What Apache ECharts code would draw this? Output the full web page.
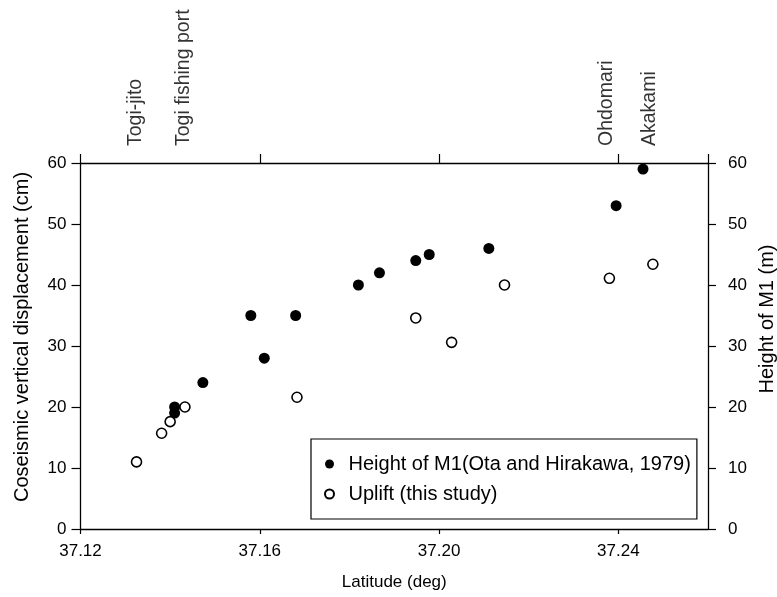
<!DOCTYPE html>
<html>
<head>
<meta charset="utf-8">
<script src="https://cdn.jsdelivr.net/npm/echarts@6/dist/echarts.min.js"></script>
<style>
  html, body { margin: 0; padding: 0; background: #fff; }
  #chart { width: 777px; height: 597px; }
</style>
</head>
<body>
<div id="chart"></div>
<script>
// 数据
var heightM1 = [
    [37.141, 19], [37.141, 20], [37.1473, 24], [37.158, 35], [37.161, 28],
    [37.168, 35], [37.182, 40], [37.1867, 42], [37.1948, 44], [37.1978, 45],
    [37.2111, 46], [37.2395, 53], [37.2455, 59]
];
var uplift = [
    [37.1325, 11], [37.1381, 15.7], [37.14, 17.6], [37.1433, 20], [37.1683, 21.6],
    [37.1948, 34.6], [37.2028, 30.6], [37.2146, 40], [37.238, 41.1], [37.2477, 43.4]
];
var placeNames = ['Togi-jito', 'Togi fishing port', 'Ohdomari', 'Akakami'];
var placeLats = [37.1322, 37.1429, 37.2374, 37.247];
var xTicks = [37.12, 37.16, 37.20, 37.24];

var FONT = 'Liberation Sans, Arial, Helvetica, sans-serif';
var chart = echarts.init(document.getElementById('chart'));

var axisLine = { show: true, onZero: false, lineStyle: { color: '#000', width: 1.3 } };
var xLabels = function (v) {
    var s = xTicks.find(function (t) { return Math.abs(t - v) < 1e-6; });
    return s === undefined ? '' : s.toFixed(2);
};

var option = {
    backgroundColor: '#fff',
    animation: false,
    textStyle: { fontFamily: FONT, color: '#000' },
    grid: { left: 80.5, right: 69, top: 163, bottom: 68, containLabel: false, outerBoundsMode: 'none' },
    xAxis: [{
        type: 'value', position: 'bottom',
        min: 37.12, max: 37.26, interval: 0.04,
        name: 'Latitude (deg)', nameLocation: 'middle', nameGap: 45,
        nameTextStyle: { fontSize: 17, color: '#000', fontFamily: FONT },
        axisLine: axisLine,
        axisTick: { show: true, inside: false, length: 5, lineStyle: { color: '#000', width: 1.2 } },
        axisLabel: { margin: 14, fontSize: 17, color: '#000', fontFamily: FONT, formatter: xLabels, showMaxLabel: false },
        splitLine: { show: false }
    }, {
        type: 'value', position: 'top',
        min: 37.12, max: 37.26, interval: 0.04,
        axisLine: axisLine,
        axisTick: { show: true, inside: false, length: 9, lineStyle: { color: '#000', width: 1.2 } },
        axisLabel: { show: false },
        splitLine: { show: false }
    }],
    yAxis: [{
        type: 'value', position: 'left',
        min: 0, max: 60, interval: 10,
        name: 'Coseismic vertical displacement (cm)', nameLocation: 'middle', nameGap: 48, nameRotate: 90,
        nameTextStyle: { fontSize: 20, color: '#000', fontFamily: FONT, padding: [0, 0, 0, 18] },
        axisLine: axisLine,
        axisTick: { show: true, inside: false, length: 9, lineStyle: { color: '#000', width: 1.2 } },
        axisLabel: { margin: 14, fontSize: 17, color: '#000', fontFamily: FONT },
        splitLine: { show: false }
    }, {
        type: 'value', position: 'right',
        min: 0, max: 60, interval: 10,
        name: 'Height of M1 (m)', nameLocation: 'middle', nameGap: 48, nameRotate: 90,
        nameTextStyle: { fontSize: 20, color: '#000', fontFamily: FONT, padding: [0, 0, 0, 54] },
        axisLine: axisLine,
        axisTick: { show: true, inside: false, length: 8, lineStyle: { color: '#000', width: 1.2 } },
        axisLabel: { margin: 20, fontSize: 17, color: '#000', fontFamily: FONT },
        splitLine: { show: false }
    }],
    legend: {
        data: ['Height of M1(Ota and Hirakawa, 1979)', 'Uplift (this study)'],
        orient: 'vertical',
        left: 311, top: 439,
        padding: [15, 6, 15, 13],
        itemGap: 10,
        itemWidth: 28, itemHeight: 9,
        borderColor: '#000', borderWidth: 1.2, borderRadius: 0,
        backgroundColor: '#fff',
        textStyle: { fontSize: 20, color: '#000', fontFamily: FONT }
    },
    series: [{
        name: 'Height of M1(Ota and Hirakawa, 1979)',
        type: 'scatter',
        symbol: 'circle', symbolSize: 11,
        itemStyle: { color: '#000', borderWidth: 0, opacity: 1 },
        data: heightM1
    }, {
        name: 'Uplift (this study)',
        type: 'scatter',
        symbol: 'circle', symbolSize: 10,
        itemStyle: { color: '#fff', borderColor: '#000', borderWidth: 1.6, opacity: 1 },
        data: uplift
    }, {
        name: 'places',
        type: 'scatter',
        silent: true,
        symbolSize: 0,
        clip: false,
        data: placeNames.map(function (n, i) { return { name: n, value: [placeLats[i], 60] }; }),
        label: {
            show: true,
            position: 'top',
            distance: 17,
            rotate: 90,
            align: 'left',
            verticalAlign: 'middle',
            fontSize: 19.5,
            color: '#000',
            fontFamily: FONT,
            formatter: function (p) { return p.name; }
        }
    }]
};

chart.setOption(option);
</script>
</body>
</html>
